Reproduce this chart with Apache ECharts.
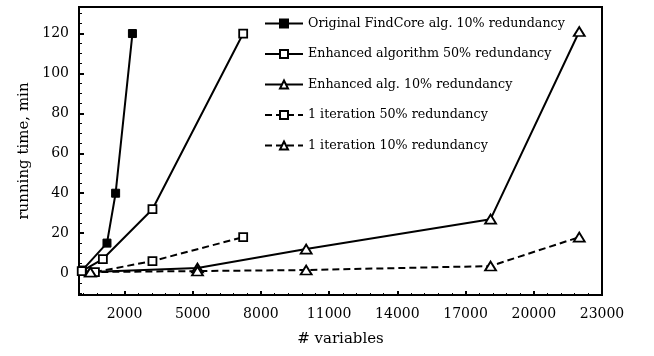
<!DOCTYPE html>
<html>
<head>
<meta charset="utf-8">
<script src="https://cdn.jsdelivr.net/npm/echarts@6/dist/echarts.min.js"></script>
<style>
html,body{margin:0;padding:0;background:#fff;}
#chart{width:654px;height:356px;}
</style>
</head>
<body>
<div id="chart"></div>
<script>
// ---- data ----
var seriesNames = [
  'Original FindCore alg. 10% redundancy',
  'Enhanced algorithm 50% redundancy',
  'Enhanced alg. 10% redundancy',
  '1 iteration 50% redundancy',
  '1 iteration 10% redundancy'
];
var origFindCore10 = [[150, 1.5], [1230, 15], [1610, 40], [2350, 120]];
var enhanced50 = [[120, 1], [1050, 7], [3230, 32], [7220, 120]];
var enhanced10 = [[500, 0.5], [5210, 2.5], [9990, 12], [18100, 27], [22000, 121]];
var iter50 = [[700, 0.5], [3230, 6], [7220, 18]];
var iter10 = [[500, 0.5], [5210, 1], [9990, 1.5], [18100, 3.5], [22000, 18]];

var xTickLabels = [2000, 5000, 8000, 11000, 14000, 17000, 20000, 23000];
var yTickLabels = [0, 20, 40, 60, 80, 100, 120];

// minor tick positions
var xMinor = [];
for (var v = 200; v < 23000; v += 600) { if (xTickLabels.indexOf(v) < 0) xMinor.push(v); }
var yMinor = [];
for (var w = -10; w <= 130; w += 5) { if (yTickLabels.indexOf(w) < 0) yMinor.push(w); }

var FONT = 'DejaVu Serif';
var chart = echarts.init(document.getElementById('chart'), null, {renderer: 'canvas'});

var solid = {color: '#000', width: 2, type: 'solid'};
var dashed = {color: '#000', width: 2, type: [7, 4]};
var openStyle = {color: '#fff', borderColor: '#000', borderWidth: 1.8};

function mk(name, data, line, symbol, size, item) {
  return {
    name: name, type: 'line', data: data, xAxisIndex: 0, yAxisIndex: 0,
    symbol: symbol, symbolSize: size, showAllSymbol: true,
    lineStyle: line, itemStyle: item, color: '#000',
    emphasis: {disabled: true}, animation: false
  };
}
function plain(v) { return String(v); }

var option = {
  animation: false,
  backgroundColor: '#fff',
  grid: {left: 79, top: 7, width: 523, height: 288, show: true, borderColor: '#000', borderWidth: 2, containLabel: false},
  legend: {
    orient: 'vertical', left: 259, top: 12,
    itemWidth: 38, itemHeight: 10, itemGap: 17.5,
    textStyle: {fontFamily: FONT, fontSize: 12.7, color: '#000'},
    data: seriesNames
  },
  xAxis: [{
    type: 'value', min: 0, max: 23000, position: 'bottom',
    name: '# variables', nameLocation: 'middle', nameGap: 37,
    nameTextStyle: {fontFamily: FONT, fontSize: 15, color: '#000'},
    axisLine: {show: true, onZero: false, lineStyle: {color: '#000', width: 2}},
    axisTick: {show: true, inside: true, length: 4, lineStyle: {color: '#000', width: 2}, customValues: xTickLabels},
    axisLabel: {show: true, fontFamily: FONT, fontSize: 14, color: '#000', margin: 12, customValues: xTickLabels, formatter: plain},
    splitLine: {show: false}
  }, {
    type: 'value', min: 0, max: 23000, position: 'bottom',
    axisLine: {show: false, onZero: false},
    axisTick: {show: true, inside: true, length: 2, lineStyle: {color: '#000', width: 1}, customValues: xMinor},
    axisLabel: {show: false},
    splitLine: {show: false}
  }],
  yAxis: [{
    type: 'value', min: -11, max: 133.3, position: 'left',
    name: 'running time, min', nameLocation: 'middle', nameGap: 41, nameRotate: 90,
    nameTextStyle: {fontFamily: FONT, fontSize: 15, color: '#000'},
    axisLine: {show: true, onZero: false, lineStyle: {color: '#000', width: 2}},
    axisTick: {show: true, inside: true, length: 5, lineStyle: {color: '#000', width: 2}, customValues: yTickLabels},
    axisLabel: {show: true, fontFamily: FONT, fontSize: 14, color: '#000', margin: 10, customValues: yTickLabels, formatter: plain},
    splitLine: {show: false}
  }, {
    type: 'value', min: -11, max: 133.3, position: 'left',
    axisLine: {show: false, onZero: false},
    axisTick: {show: true, inside: true, length: 3, lineStyle: {color: '#000', width: 1}, customValues: yMinor},
    axisLabel: {show: false},
    splitLine: {show: false}
  }],
  series: [
    mk(seriesNames[0], origFindCore10, solid, 'rect', 8, {color: '#000', borderColor: '#000', borderWidth: 1}),
    mk(seriesNames[1], enhanced50, solid, 'rect', 8, openStyle),
    mk(seriesNames[2], enhanced10, solid, 'triangle', [11, 9], openStyle),
    mk(seriesNames[3], iter50, dashed, 'rect', 8, openStyle),
    mk(seriesNames[4], iter10, dashed, 'triangle', [11, 9], openStyle)
  ]
};
chart.setOption(option);
</script>
</body>
</html>
